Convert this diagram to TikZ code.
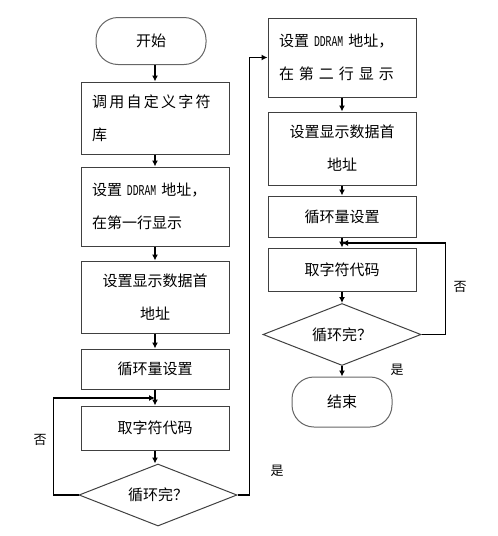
\documentclass[tikz,border=0pt]{standalone}
\usepackage{fontspec}
\usepackage{graphicx}
\setmainfont{Noto Sans CJK SC}
\newfontfamily\monofont{Liberation Mono}
\usetikzlibrary{shapes.geometric,arrows.meta}
\newcommand\ddram{{\monofont\fontsize{15}{15}\selectfont\scalebox{0.65}[1]{DDRAM}}}

\begin{document}
\begin{tikzpicture}[x=1pt,y=-1pt,
    box/.style={rectangle, draw=black!75, line width=1pt, minimum width=148pt, inner sep=0pt, font=\fontsize{15}{33}\selectfont},
    term/.style={rectangle, rounded corners=22pt, draw=black!60, line width=1pt, font=\fontsize{15}{18}\selectfont},
    test/.style={diamond, draw=black!75, line width=1pt, minimum width=158pt, minimum height=62pt, inner sep=0pt, aspect=2.5, font=\fontsize{15}{18}\selectfont},
    arr/.style={line width=1.6pt, -{Latex[length=6pt,width=6pt]}},
    lab/.style={font=\fontsize{13}{15}\selectfont}]
                    \useasboundingbox (0,0) rectangle (498,536);
                    % left column
                    \node[term, minimum width=110pt, minimum height=47pt] (start) at (151,41) {开始};
                    \node[box, minimum height=72pt, text width=126pt, align=left] (b1) at (155,118) {\addfontfeatures{LetterSpace=15}调用自定义字符\\库};
                    \node[box, minimum height=79pt, text width=126pt, align=left] (b2) at (155,206.5) {设置 \ddram{} 地址，\\在第一行显示};
                    \node[box, minimum height=72pt, align=center] (b3) at (155,297) {设置显示数据首\\地址};
                    \node[box, minimum height=40pt] (b4) at (155,369) {循环量设置};
                    \node[box, minimum height=44pt] (b5) at (155,428) {取字符代码};
                    \node[test] (d1) at (158,495) {循环完？};
                    \coordinate (j1) at (155,398);
                    % right column
                    \node[box, minimum height=79pt, text width=126pt, align=left] (r1) at (342,57.5) {设置 \ddram{} 地址，\\\makebox[126pt][s]{在 第 二 行 显 示}};
                    \node[box, minimum height=73pt, align=center] (r2) at (342,148.5) {设置显示数据首\\地址};
                    \node[box, minimum height=41pt] (r3) at (342,216.5) {循环量设置};
                    \node[box, minimum height=43pt] (r4) at (342,269.5) {取字符代码};
                    \node[test] (d2) at (342,334.5) {循环完？};
                    \node[term, minimum width=100pt, minimum height=50pt] (stop) at (342,402) {结束};
                    \coordinate (j2) at (342,243);
                    % labels
                    \node[lab] (no1) at (40,440) {否};
                    \node[lab] (yes1) at (277,471) {是};
                    \node[lab] (no2) at (460,287) {否};
                    \node[lab] (yes2) at (397,370) {是};
                    % connectors
                    \draw[arr] (start.south -| b1.north) -- (b1.north);
                    \draw[arr] (b1) -- (b2);
                    \draw[arr] (b2) -- (b3);
                    \draw[arr] (b3) -- (b4);
                    \draw[arr] (b4) -- (b5);
                    \draw[arr] (b5.south) -- (b5.south |- d1.north);
                    \draw[arr] (d1.west) -- ++(-25,0) |- (j1);
                    \draw[arr] (d1.east) -- ++(12,0) |- (r1.west);
                    \draw[arr] (r1) -- (r2);
                    \draw[arr] (r2) -- (r3);
                    \draw[arr] (r3) -- (r4);
                    \draw[arr] (r4) -- (d2);
                    \draw[arr] (d2) -- (stop);
                    \draw[arr] (d2.east) -- ++(24,0) |- (j2);
                  \end{tikzpicture}
\end{document}
